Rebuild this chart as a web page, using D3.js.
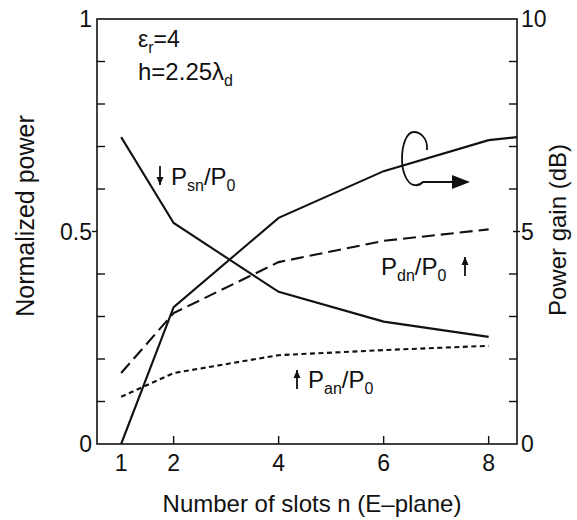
<!DOCTYPE html>
<html>
<head>
<meta charset="utf-8">
<script src="https://cdn.jsdelivr.net/npm/d3@7"></script>
<style>
  body { margin: 0; background: #fff; }
  svg text { font-family: "Liberation Sans", Arial, sans-serif; fill: #111; }
</style>
</head>
<body>
<div id="chart"></div>
<script>
    // values
    let slots = [1, 2, 4, 6, 8];
    let psn = [0.722, 0.52, 0.358, 0.288, 0.252];      // solid, left axis
    let pdn = [0.167, 0.308, 0.428, 0.478, 0.505];     // long dash, left axis
    let pan = [0.111, 0.167, 0.209, 0.221, 0.231];     // short dash, left axis
    let gainSlots = [1, 2, 4, 6, 8, 8.54];
    let gainDb = [0, 3.22, 5.32, 6.42, 7.15, 7.22];    // solid, right axis

    let xTicks = [2, 4, 6, 8];
    let xLabels = [1, 2, 4, 6, 8];
    let leftMinor = [0.1, 0.2, 0.3, 0.4, 0.6, 0.7, 0.8, 0.9];
    let leftLabels = [0, 0.5, 1];
    let rightMinor = [1, 2, 3, 4, 6, 7, 8, 9];
    let rightLabels = [0, 5, 10];

    let width = 577, height = 520;
    let margin = {top: 19, right: 60, bottom: 76, left: 97};

    let svg = d3.select("#chart").append("svg")
        .attr("width", width)
        .attr("height", height);

    let x = d3.scaleLinear().domain([0.54, 8.54]).range([margin.left, width - margin.right]);
    let yL = d3.scaleLinear().domain([0, 1]).range([height - margin.bottom, margin.top]);
    let yR = d3.scaleLinear().domain([0, 10]).range([height - margin.bottom, margin.top]);

    let x0 = margin.left, x1 = width - margin.right;
    let y0 = height - margin.bottom, y1 = margin.top;

    // frame
    svg.append("rect")
        .attr("x", x0).attr("y", y1)
        .attr("width", x1 - x0).attr("height", y0 - y1)
        .attr("fill", "none")
        .attr("stroke", "#111")
        .attr("stroke-width", 1.6);

    // ticks
    let ticks = svg.append("g").attr("stroke", "#111").attr("stroke-width", 1.4);
    ticks.selectAll(".lm").data(leftMinor).join("line")
        .attr("x1", x0).attr("x2", x0 + 8)
        .attr("y1", d => yL(d)).attr("y2", d => yL(d));
    ticks.selectAll(".lM").data([0.5]).join("line")
        .attr("x1", x0 - 5).attr("x2", x0)
        .attr("y1", d => yL(d)).attr("y2", d => yL(d));
    ticks.selectAll(".rm").data(rightMinor).join("line")
        .attr("x1", x1 - 8).attr("x2", x1)
        .attr("y1", d => yR(d)).attr("y2", d => yR(d));
    ticks.selectAll(".rM").data([5]).join("line")
        .attr("x1", x1 - 4).attr("x2", x1 + 3)
        .attr("y1", d => yR(d)).attr("y2", d => yR(d));
    ticks.selectAll(".xt").data(xTicks).join("line")
        .attr("x1", d => x(d)).attr("x2", d => x(d))
        .attr("y1", y0).attr("y2", y0 - 8);

    // tick labels
    svg.selectAll(".ll").data(leftLabels).join("text")
        .attr("x", x0 - 5).attr("y", d => yL(d) + 8)
        .attr("text-anchor", "end")
        .style("font-size", "23px")
        .text(d => d);
    svg.selectAll(".rl").data(rightLabels).join("text")
        .attr("x", x1 + 4).attr("y", d => yR(d) + 8)
        .style("font-size", "23px")
        .text(d => d);
    svg.selectAll(".xl").data(xLabels).join("text")
        .attr("x", d => x(d)).attr("y", y0 + 27)
        .attr("text-anchor", "middle")
        .style("font-size", "23px")
        .text(d => d);

    // axis titles
    svg.append("text")
        .attr("x", 312).attr("y", 512)
        .attr("text-anchor", "middle")
        .style("font-size", "24px")
        .text("Number of slots n (E\u2013plane)");
    svg.append("text")
        .attr("transform", "translate(34,216) rotate(-90)")
        .attr("text-anchor", "middle")
        .style("font-size", "25px")
        .text("Normalized power");
    svg.append("text")
        .attr("transform", "translate(566,230) rotate(-90)")
        .attr("text-anchor", "middle")
        .style("font-size", "24px")
        .text("Power gain (dB)");

    // series
    let lineL = d3.line().x(d => x(d[0])).y(d => yL(d[1]));
    let lineR = d3.line().x(d => x(d[0])).y(d => yR(d[1]));

    let series = [
        {vals: d3.zip(slots, psn), line: lineL, dash: null},
        {vals: d3.zip(slots, pdn), line: lineL, dash: "13,6"},
        {vals: d3.zip(slots, pan), line: lineL, dash: "5,3.5"},
        {vals: d3.zip(gainSlots, gainDb), line: lineR, dash: null}
    ];
    svg.selectAll(".series").data(series).join("path")
        .attr("d", d => d.line(d.vals))
        .attr("fill", "none")
        .attr("stroke", "#111")
        .attr("stroke-width", 2.1)
        .attr("stroke-dasharray", d => d.dash);

    // loop + arrow pointing to right axis
    svg.append("path")
        .attr("d", "M427,150 C428,138 420,132 414,132 C406,132 402,146 402,159 C402,172 407,184 414,185 C418,186 421,184 423,182 L455,182")
        .attr("fill", "none")
        .attr("stroke", "#111")
        .attr("stroke-width", 1.8);
    svg.append("path")
        .attr("d", "M452,175 L470,182 L452,189 Z")
        .attr("fill", "#111");

    // small vertical arrows next to the labels
    function arrow(xp, ytop, ybot, up) {
        svg.append("line")
            .attr("x1", xp).attr("x2", xp)
            .attr("y1", ytop).attr("y2", ybot)
            .attr("stroke", "#111").attr("stroke-width", 1.8);
        let tip = up ? ytop : ybot, base = up ? ytop + 8 : ybot - 8;
        svg.append("path")
            .attr("d", `M${xp - 3.5},${base} L${xp},${tip} L${xp + 3.5},${base} Z`)
            .attr("fill", "#111");
    }

    // annotations
    function label(xp, yp, size, parts) {
        let t = svg.append("text").attr("x", xp).attr("y", yp).style("font-size", size + "px");
        parts.forEach(p => {
            let s = t.append("tspan").text(p[0]);
            if (p[1] == "sub") s.style("font-size", "16px").attr("dy", 6);
            if (p[1] == "up") s.attr("dy", -6);
        });
        return t;
    }
    label(138, 47, 23, [["\u03b5"], ["r", "sub"], ["=4", "up"]]);
    label(138, 80, 24, [["h=2.25\u03bb"], ["d", "sub"]]);
    label(171, 185, 24, [["P"], ["sn", "sub"], ["/P", "up"], ["0", "sub"]]);
    arrow(160, 166, 185, false);
    label(381, 275, 24, [["P"], ["dn", "sub"], ["/P", "up"], ["0", "sub"]]);
    arrow(465, 257, 276, true);
    label(308, 388, 24, [["P"], ["an", "sub"], ["/P", "up"], ["0", "sub"]]);
    arrow(297, 370, 389, true);
</script>
</body>
</html>
